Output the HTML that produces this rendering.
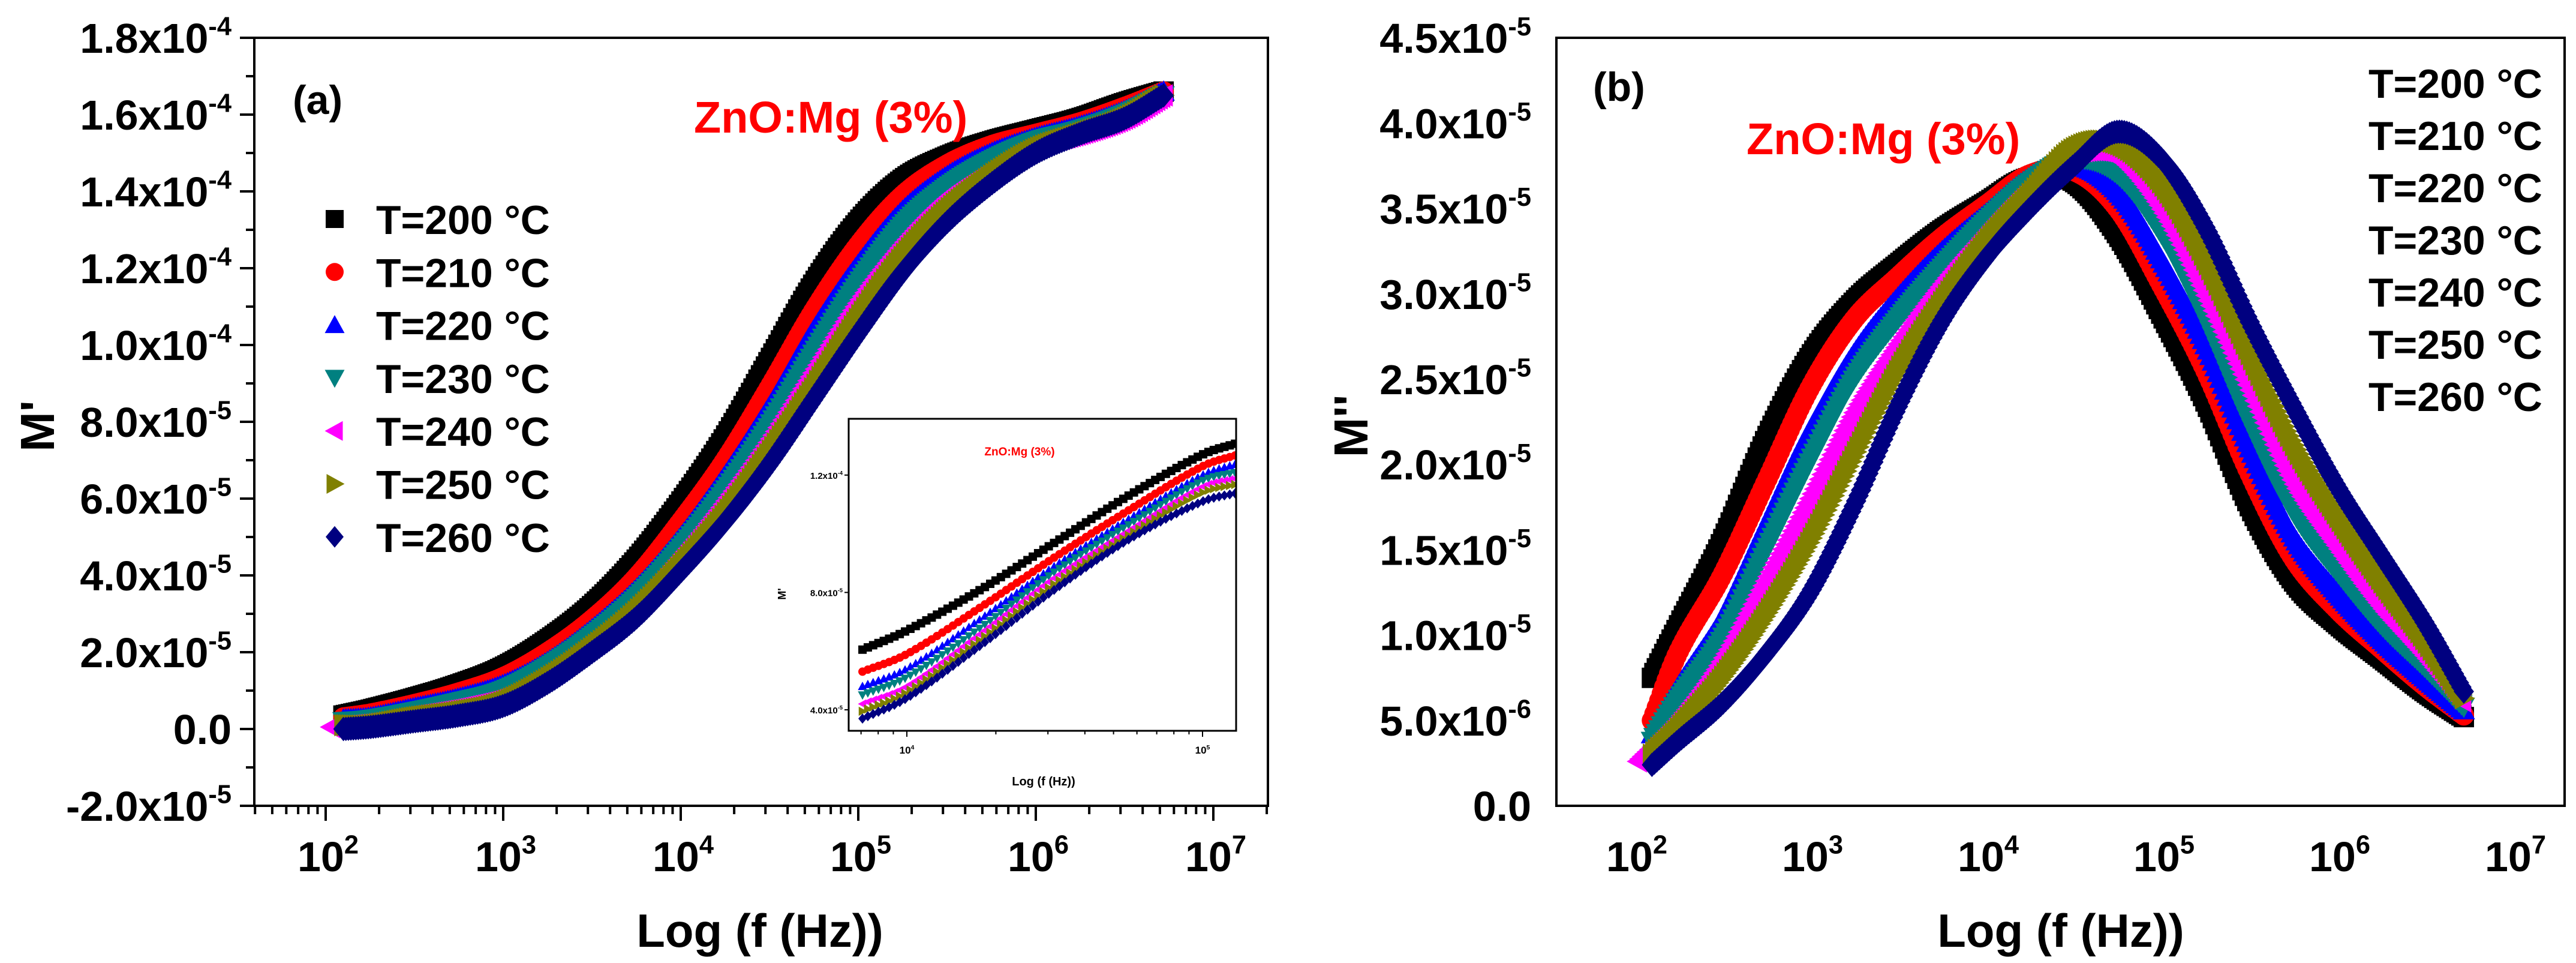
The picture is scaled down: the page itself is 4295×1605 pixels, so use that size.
<!DOCTYPE html>
<html><head><meta charset="utf-8"><style>
html,body{margin:0;padding:0;background:#fff;}
svg{display:block;font-family:"Liberation Sans",Arial,sans-serif;font-weight:bold;}
</style></head><body>
<svg id="fig" width="4295" height="1605" viewBox="0 0 4295 1605" xmlns="http://www.w3.org/2000/svg">
<defs>
<clipPath id="clipA"><rect x="424" y="63" width="1690" height="1280"/></clipPath>
<clipPath id="clipB"><rect x="2595" y="63" width="1681" height="1280"/></clipPath>
<clipPath id="clipI"><rect x="1415" y="698" width="646" height="520"/></clipPath>
</defs>
<rect width="4295" height="1605" fill="#fff"/>
<g id="panelA"></g>
<g id="panelB"></g>
</svg>
<script>
// ---- data ----
const temps = ["T=200 °C","T=210 °C","T=220 °C","T=230 °C","T=240 °C","T=250 °C","T=260 °C"];
const colors = ["#000000","#ff0000","#0000ff","#008080","#ff00ff","#808000","#000080"];
const shapes = ["square","circle","up","down","left","right","diamond"];
const logF = [2.1,2.25,2.5,2.75,3,3.25,3.5,3.75,4,4.25,4.5,4.75,5,5.25,5.5,5.75,6,6.25,6.5,6.72];
// M' (x1e-5)
const mReal200 = [0.35,0.5,0.8,1.15,1.6,2.3,3.2,4.4,5.9,7.6,9.6,11.6,13.2,14.3,14.9,15.3,15.6,15.9,16.3,16.6];
const mReal210 = [0.3,0.4,0.65,0.95,1.35,2.0,2.85,3.95,5.4,7.0,8.9,10.9,12.6,13.9,14.7,15.2,15.5,15.8,16.2,16.6];
const mReal220 = [0.25,0.3,0.55,0.8,1.15,1.75,2.6,3.65,5.0,6.6,8.4,10.4,12.1,13.5,14.4,15.0,15.4,15.7,16.1,16.6];
const mReal230 = [0.2,0.25,0.45,0.7,1.0,1.6,2.4,3.4,4.7,6.2,7.9,9.8,11.6,13.1,14.1,14.8,15.3,15.6,16.0,16.5];
const mReal240 = [0.05,0.15,0.35,0.55,0.85,1.45,2.25,3.2,4.45,5.9,7.5,9.3,11.1,12.6,13.8,14.6,15.2,15.5,15.9,16.5];
const mReal250 = [0.1,0.1,0.3,0.45,0.7,1.3,2.1,3.05,4.25,5.6,7.2,8.9,10.7,12.3,13.5,14.4,15.1,15.5,15.9,16.5];
const mReal260 = [0.0,0.05,0.2,0.35,0.6,1.2,2.0,2.9,4.1,5.4,6.9,8.6,10.3,11.9,13.2,14.2,15.0,15.5,15.9,16.5];
// M'' (x1e-5)
const mImag200 = [0.75,1.05,1.55,2.15,2.63,2.95,3.17,3.37,3.53,3.68,3.66,3.35,2.88,2.37,1.76,1.32,1.07,0.87,0.67,0.52];
const mImag210 = [0.50,0.90,1.35,1.90,2.45,2.85,3.10,3.33,3.52,3.70,3.72,3.50,3.05,2.55,1.95,1.45,1.15,0.92,0.70,0.53];
const mImag220 = [0.42,0.70,1.10,1.65,2.20,2.65,2.98,3.25,3.47,3.68,3.76,3.60,3.20,2.70,2.10,1.58,1.25,0.98,0.75,0.56];
const mImag230 = [0.38,0.62,0.98,1.50,2.02,2.50,2.85,3.15,3.42,3.65,3.79,3.70,3.35,2.85,2.25,1.72,1.37,1.06,0.81,0.58];
const mImag240 = [0.26,0.50,0.85,1.32,1.80,2.30,2.70,3.05,3.35,3.62,3.82,3.80,3.50,3.00,2.45,1.90,1.52,1.17,0.88,0.60];
const mImag250 = [0.30,0.45,0.75,1.12,1.55,2.05,2.55,2.95,3.30,3.58,3.85,3.88,3.65,3.20,2.65,2.12,1.70,1.32,0.97,0.63];
const mImag260 = [0.24,0.38,0.60,0.89,1.25,1.76,2.34,2.84,3.21,3.50,3.75,3.95,3.79,3.39,2.84,2.34,1.87,1.47,1.07,0.67];
// inset M' (x1e-5)
const insetLogF = [3.85,4,4.25,4.5,4.75,5,5.12];
const inset200 = [6.05,6.7,8.1,9.7,11.3,12.7,13.1];
const inset210 = [5.3,5.9,7.5,9.2,10.8,12.3,12.7];
const inset220 = [4.8,5.4,7.1,8.9,10.5,12.0,12.4];
const inset230 = [4.5,5.1,6.8,8.7,10.3,11.8,12.1];
const inset240 = [4.2,4.8,6.6,8.5,10.1,11.6,11.9];
const inset250 = [3.95,4.6,6.4,8.3,9.95,11.4,11.7];
const inset260 = [3.7,4.4,6.2,8.1,9.8,11.1,11.4];
// ticks
const yTicksA = [-2,0,2,4,6,8,10,12,14,16,18];
const yLabelsA = [["-2.0x10","-5"],["0.0",""],["2.0x10","-5"],["4.0x10","-5"],["6.0x10","-5"],["8.0x10","-5"],["1.0x10","-4"],["1.2x10","-4"],["1.4x10","-4"],["1.6x10","-4"],["1.8x10","-4"]];
const yTicksB = [0,0.5,1,1.5,2,2.5,3,3.5,4,4.5];
const yLabelsB = [["0.0",""],["5.0x10","-6"],["1.0x10","-5"],["1.5x10","-5"],["2.0x10","-5"],["2.5x10","-5"],["3.0x10","-5"],["3.5x10","-5"],["4.0x10","-5"],["4.5x10","-5"]];
const xDecades = [2,3,4,5,6,7];
const insetYTicks = [4,8,12];
const insetYLabels = [["4.0x10","-5"],["8.0x10","-5"],["1.2x10","-4"]];
const insetXDecades = [4,5];

const realSeries = [mReal200,mReal210,mReal220,mReal230,mReal240,mReal250,mReal260];
const imagSeries = [mImag200,mImag210,mImag220,mImag230,mImag240,mImag250,mImag260];
const insetSeries = [inset200,inset210,inset220,inset230,inset240,inset250,inset260];

// ---- axis functions ----
const xA = L => 543 + (L-2)*296;
const yA = v => 1343 - (v+2)*64;
const xB = L => 2725 + (L-2)*293;
const yB = v => 1343 - v*284.4;
const xI = L => 1512 + (L-4)*493;
const yI = v => 1183 - (v-4)*48.9;

const NS="http://www.w3.org/2000/svg";
function mk(tag, attrs, parent){const e=document.createElementNS(NS,tag);for(const k in attrs)e.setAttribute(k,attrs[k]);parent.appendChild(e);return e;}

function markerPath(shape,x,y,s){
  const h=s/2;
  switch(shape){
    case "square": return `M${x-h},${y-h}h${s}v${s}h${-s}Z`;
    case "circle": return `M${x-h},${y}a${h},${h} 0 1,0 ${s},0a${h},${h} 0 1,0 ${-s},0Z`;
    case "up": return `M${x},${y-h*1.1}L${x+h*1.1},${y+h*0.9}L${x-h*1.1},${y+h*0.9}Z`;
    case "down": return `M${x},${y+h*1.1}L${x+h*1.1},${y-h*0.9}L${x-h*1.1},${y-h*0.9}Z`;
    case "left": return `M${x-h*1.1},${y}L${x+h*0.9},${y-h*1.1}L${x+h*0.9},${y+h*1.1}Z`;
    case "right": return `M${x+h*1.1},${y}L${x-h*0.9},${y-h*1.1}L${x-h*0.9},${y+h*1.1}Z`;
    case "diamond": return `M${x},${y-h*1.2}L${x+h},${y}L${x},${y+h*1.2}L${x-h},${y}Z`;
  }
}
// Catmull-Rom smooth interpolation between data knots
function interp(xs,ys,L){
  const n=xs.length;
  for(let i=0;i<n-1;i++){
    if(L>=xs[i]&&L<=xs[i+1]){
      const h=xs[i+1]-xs[i], t=(L-xs[i])/h;
      const m0 = i>0 ? (ys[i+1]-ys[i-1])/(xs[i+1]-xs[i-1])*h : (ys[i+1]-ys[i]);
      const m1 = i<n-2 ? (ys[i+2]-ys[i])/(xs[i+2]-xs[i])*h : (ys[i+1]-ys[i]);
      const t2=t*t,t3=t2*t;
      return (2*t3-3*t2+1)*ys[i]+(t3-2*t2+t)*m0+(-2*t3+3*t2)*ys[i+1]+(t3-t2)*m1;
    }
  }
  return ys[n-1];
}
function drawSeries(parent, xs, ys, fx, fy, shape, color, size, step, name){
  const g=mk("g",{fill:color},parent);
  
  
  let d="";
  const start=xs[0], end=xs[xs.length-1];
  for(let L=start; L<=end+1e-9; L+=step){ d+=markerPath(shape,fx(L),fy(interp(xs,ys,L)),size); }
  mk("path",{d:d},g);
}
function supText(parent,x,y,base,sup,size,anchor,fill){
  const t=mk("text",{x:x,y:y,"font-size":size,"text-anchor":anchor,fill:fill||"#000"},parent);
  t.appendChild(document.createTextNode(base));
  if(sup){const s=mk("tspan",{dy:-size*0.42,"font-size":size*0.62},t);s.textContent=sup;}
  return t;
}

// ---- Panel A ----
const A=document.getElementById("panelA");
const dataA=mk("g",{"clip-path":"url(#clipA)"},A);


for(let i=0;i<7;i++){
  const xs = (i===4)? [2.03].concat(logF.slice(1)) : logF;
  drawSeries(dataA, xs, realSeries[i], xA, yA, shapes[i], colors[i], 34, 0.014, "series-a-"+temps[i].slice(2,5));
}
// inset
const ins=mk("g",{},A);


mk("rect",{x:1415,y:698,width:646,height:520,fill:"#fff"},ins);
const insData=mk("g",{"clip-path":"url(#clipI)"},ins);
for(let i=0;i<7;i++){
  drawSeries(insData, insetLogF, insetSeries[i], xI, yI, shapes[i], colors[i], 14, 0.018, "inset-series-"+temps[i].slice(2,5));
}
mk("rect",{x:1415,y:698,width:646,height:520,fill:"none",stroke:"#000","stroke-width":3},ins);
insetYTicks.forEach((v,i)=>{
  mk("line",{x1:1408,x2:1415,y1:yI(v),y2:yI(v),stroke:"#000","stroke-width":2},ins);
  const t=supText(ins,1405,yI(v)+6,insetYLabels[i][0],insetYLabels[i][1],15,"end");
  
  
});
for(let d=3; d<=5; d++){ for(let k=1;k<10;k++){ const L=d+Math.log10(k); const x=xI(L); if(x<1415||x>2061) continue;
  mk("line",{x1:x,x2:x,y1:1218,y2:k===1?1228:1224,stroke:"#000","stroke-width":2},ins);} }
insetXDecades.forEach(d=>{
  const t=supText(ins,xI(d),1256,"10",String(d),17,"middle");
  
  
});
let it=mk("text",{x:1740,y:1309,"font-size":20,"text-anchor":"middle"},ins); it.textContent="Log (f (Hz))";
 
it=mk("text",{x:0,y:0,"font-size":18,"text-anchor":"middle",transform:"translate(1310,990) rotate(-90)"},ins); it.textContent="M'";
 
it=mk("text",{x:1700,y:759,"font-size":19,fill:"#ff0000","text-anchor":"middle"},ins); it.textContent="ZnO:Mg (3%)";
 

// frame A
const frA=mk("rect",{x:424,y:63,width:1690,height:1280,fill:"none",stroke:"#000","stroke-width":4},A);
 
yTicksA.forEach((v,i)=>{
  mk("line",{x1:400,x2:424,y1:yA(v),y2:yA(v),stroke:"#000","stroke-width":4},A);
  if(i<yTicksA.length-1) mk("line",{x1:410,x2:424,y1:yA(v+1),y2:yA(v+1),stroke:"#000","stroke-width":4},A);
  const t=supText(A,386,yA(v)+25,yLabelsA[i][0],yLabelsA[i][1],70,"end");
  
  
});
for(let d=1; d<=7; d++){ for(let k=1;k<10;k++){ const L=d+Math.log10(k); const x=xA(L); if(x<424||x>2114) continue;
  mk("line",{x1:x,x2:x,y1:1343,y2:k===1?1368:1357,stroke:"#000","stroke-width":4},A);} }
xDecades.forEach(d=>{
  const t=supText(A,xA(d)+4,1452,"10",String(d),70,"middle");
  
  
});
let tx=mk("text",{x:1267,y:1578,"font-size":78,"text-anchor":"middle"},A); tx.textContent="Log (f (Hz))";
 
tx=mk("text",{x:0,y:0,"font-size":80,"text-anchor":"middle",transform:"translate(90,710) rotate(-90)"},A); tx.textContent="M'";
 
tx=mk("text",{x:488,y:190,"font-size":68},A); tx.textContent="(a)";
 
tx=mk("text",{x:1157,y:221,"font-size":74,fill:"#ff0000"},A); tx.textContent="ZnO:Mg (3%)";
 
const legA=mk("g",{},A);
 
temps.forEach((t,i)=>{
  const cy=365+i*88.3;
  const e=mk("g",{},legA);
  
  
  mk("path",{d:markerPath(shapes[i],558,cy,30),fill:colors[i]},e);
  const tt=mk("text",{x:627,y:cy+25,"font-size":68},e); tt.textContent=t;
});

// ---- Panel B ----
const B=document.getElementById("panelB");
const dataB=mk("g",{"clip-path":"url(#clipB)"},B);


for(let i=0;i<7;i++){
  const xs = (i===4)? [2.02].concat(logF.slice(1)) : logF;
  drawSeries(dataB, xs, imagSeries[i], xB, yB, shapes[i], colors[i], 34, 0.014, "series-b-"+temps[i].slice(2,5));
}
const frB=mk("rect",{x:2595,y:63,width:1681,height:1280,fill:"none",stroke:"#000","stroke-width":4},B);
 
yTicksB.forEach((v,i)=>{
  const t=supText(B,2553,yB(v)+25,yLabelsB[i][0],yLabelsB[i][1],70,"end");
  
  
});
xDecades.forEach(d=>{
  const t=supText(B,xB(d)+4,1452,"10",String(d),70,"middle");
  
  
});
tx=mk("text",{x:3436,y:1578,"font-size":78,"text-anchor":"middle"},B); tx.textContent="Log (f (Hz))";
 
tx=mk("text",{x:0,y:0,"font-size":80,"text-anchor":"middle",transform:"translate(2280,710) rotate(-90)"},B); tx.textContent="M''";
 
tx=mk("text",{x:2656,y:168,"font-size":68},B); tx.textContent="(b)";
 
tx=mk("text",{x:2912,y:257,"font-size":74,fill:"#ff0000"},B); tx.textContent="ZnO:Mg (3%)";
 
const legB=mk("g",{},B);
 
temps.forEach((t,i)=>{
  const tt=mk("text",{x:3949,y:163+i*87,"font-size":68},legB); tt.textContent=t;
  
  
});
</script>
</body></html>
